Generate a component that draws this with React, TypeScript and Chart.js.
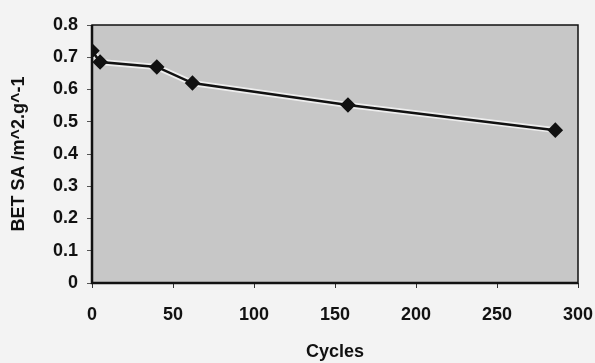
import React, { useEffect, useRef } from "react";
import { Chart, registerables } from "chart.js";

Chart.register(...registerables);

const cycles = [0, 5, 40, 62, 158, 286];
const betSA = [0.72, 0.685, 0.67, 0.62, 0.552, 0.474];
const xTitle = "Cycles";
const yTitle = "BET SA /m^2.g^-1";

const FONT = "'Liberation Sans', Arial, sans-serif";

const plotBox = {
  id: "plotBox",
  beforeDraw(chart: any) {
    const { ctx, chartArea: a } = chart;
    ctx.save();
    ctx.fillStyle = "#f3f3f3";
    ctx.fillRect(0, 0, chart.width, chart.height);
    ctx.fillStyle = "#c7c7c7";
    ctx.fillRect(a.left, a.top, a.right - a.left, a.bottom - a.top);
    ctx.restore();
  },
  afterDraw(chart: any) {
    const { ctx, chartArea: a } = chart;
    ctx.save();
    ctx.strokeStyle = "#111";
    ctx.lineWidth = 1.5;
    ctx.strokeRect(a.left, a.top, a.right - a.left, a.bottom - a.top);
    ctx.lineWidth = 2.5;
    ctx.beginPath();
    ctx.moveTo(a.left, a.top);
    ctx.lineTo(a.left, a.bottom);
    ctx.lineTo(a.right, a.bottom);
    ctx.stroke();
    ctx.restore();
  },
};

export default function App() {
  const ref = useRef<HTMLCanvasElement>(null);
  useEffect(() => {
    document.body.style.margin = "0";
    document.body.style.background = "#f3f3f3";
    const points = cycles.map((c, i) => ({ x: c, y: betSA[i] }));
    const chart = new Chart(ref.current!, {
      type: "line",
      data: {
        datasets: [
          {
            data: points,
            borderColor: "#111",
            borderWidth: 2.5,
            pointStyle: "rectRot",
            pointRadius: 6,
            pointBackgroundColor: "#111",
            pointBorderColor: "#111",
            tension: 0,
            order: 1,
          },
          {
            data: points,
            borderColor: "rgba(245,245,245,0.85)",
            borderWidth: 6,
            pointRadius: 0,
            tension: 0,
            order: 2,
          },
        ],
      },
      plugins: [plotBox],
      options: {
        animation: false,
        responsive: false,
        layout: { padding: { top: 25, right: 17, left: 0, bottom: 0 } },
        plugins: { legend: { display: false }, tooltip: { enabled: false } },
        scales: {
          x: {
            type: "linear",
            min: 0,
            max: 300,
            ticks: {
              stepSize: 50,
              color: "#111",
              padding: 16,
              maxRotation: 0,
              font: { family: FONT, size: 18, weight: "bold" },
            },
            grid: { drawOnChartArea: false, tickLength: 5, color: "#333" },
            border: { display: false },
            title: {
              display: true,
              text: xTitle,
              color: "#111",
              padding: { top: 0, bottom: 0 },
              font: { family: FONT, size: 18, weight: "bold" },
            },
            afterFit(scale: any) {
              scale.height = 80;
              scale.paddingLeft = 0;
              scale.paddingRight = 0;
            },
          },
          y: {
            min: 0,
            max: 0.8,
            ticks: {
              stepSize: 0.1,
              color: "#111",
              padding: 9,
              font: { family: FONT, size: 18, weight: "bold" },
              callback: (v: any) => (v === 0 ? "0" : Number(v).toFixed(1)),
            },
            grid: { drawOnChartArea: false, tickLength: 5, color: "#555" },
            border: { display: false },
            title: {
              display: true,
              text: yTitle,
              color: "#111",
              padding: { top: 8, bottom: 0 },
              font: { family: FONT, size: 18, weight: "bold" },
            },
            afterFit(scale: any) {
              scale.width = 92;
            },
          },
        },
      },
    });
    return () => chart.destroy();
  }, []);
  return <canvas ref={ref} width={595} height={363} style={{ display: "block" }} />;
}
